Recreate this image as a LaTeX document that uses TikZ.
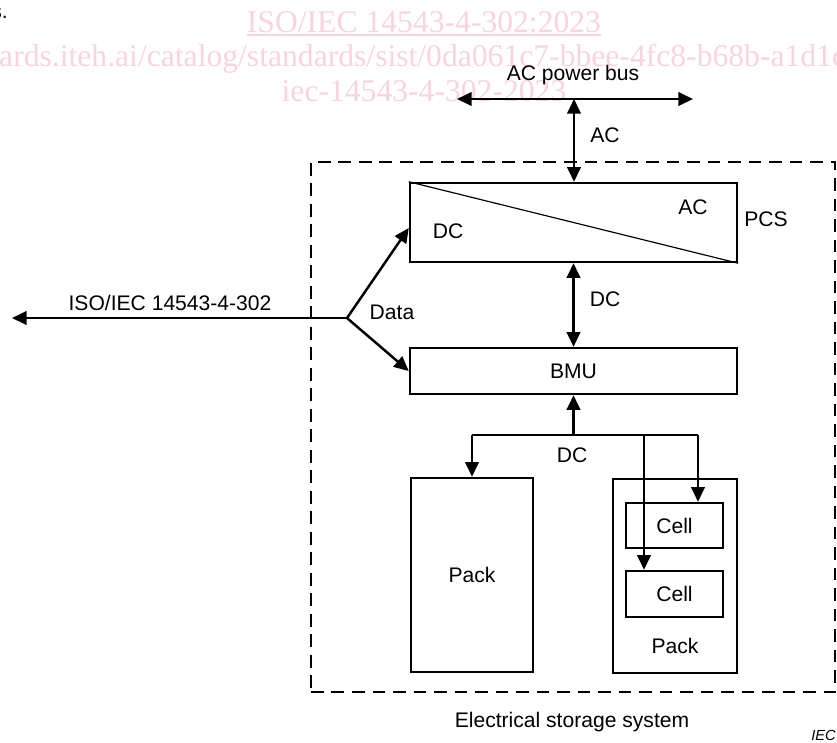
\documentclass[tikz,border=0pt]{standalone}
\usepackage{fontspec}
\setmainfont{Liberation Sans}
\newfontfamily\wmfont{Liberation Serif}
\usetikzlibrary{arrows.meta}
\definecolor{wmpink}{RGB}{249,212,222}
\newcommand{\diagfont}{\fontsize{18}{21}\selectfont}

\begin{document}
\begin{tikzpicture}[x=0.03cm,y=-0.03cm,
        box/.style={draw, line width=2.1pt, inner sep=0pt, font=\diagfont},
        arr/.style={line width=2.1pt, -{Triangle[length=12.5pt,width=11.5pt]}},
        darr/.style={line width=2.1pt, {Triangle[length=12.5pt,width=11.5pt]}-{Triangle[length=12.5pt,width=11.5pt]}},
        lbl/.style={font=\diagfont, inner sep=0pt},
        wm/.style={font=\wmfont\fontsize{27}{30}\selectfont, text=wmpink, inner sep=0pt}]
     \useasboundingbox (0,0) rectangle (837,742);
     \clip (0,0) rectangle (837,742);

     % watermark
            \node[wm, anchor=base] (wmtitle) at (424,32) {ISO/IEC 14543-4-302:2023};
            \draw[wmpink, line width=1.2pt] ([yshift=-0.09cm]wmtitle.base west) -- ([yshift=-0.09cm]wmtitle.base east);
            \node[wm, anchor=base west] (wmurl) at (-1,66) {ards.iteh.ai/catalog/standards/sist/0da061c7-bbee-4fc8-b68b-a1d1c};
            \node[wm, anchor=base] (wmiec) at (424,101) {iec-14543-4-302-2023};

            \node[lbl, anchor=base east] (cut) at (8,18) {s.};

     % system boundary
            \node[draw, line width=2.1pt, dash pattern=on 11pt off 6.5pt, minimum width=15.72cm, minimum height=15.9cm] (ess) at (573,427) {};
            \node[lbl] (esslbl) at (572,722) {Electrical storage system};

            \node[box, minimum width=9.81cm, minimum height=2.37cm] (pcs) at (573.5,222.5) {};
            \draw[line width=1pt] (pcs.north west) -- (pcs.south east);
            \node[lbl] (pcsac) at (693,207) {AC};
            \node[lbl] (pcsdc) at (448,231) {DC};
            \node[lbl] (pcslbl) at (766,219) {PCS};

            \node[box, minimum width=9.81cm, minimum height=1.38cm] (bmu) at (573.5,371) {BMU};

            \node[box, minimum width=3.66cm, minimum height=5.82cm] (pack1) at (472,575) {Pack};
            \node[box, minimum width=3.72cm, minimum height=5.82cm] (pack2) at (675,576) {};
            \node[lbl] (pack2lbl) at (675,646) {Pack};
            \node[box, minimum width=2.91cm, minimum height=1.35cm] (cell1) at (674.5,525.5) {Cell};
            \node[box, minimum width=2.91cm, minimum height=1.38cm] (cell2) at (674.5,594) {Cell};

     % AC side
            \coordinate (busL) at (457,99);
            \coordinate (busR) at (693,99);
            \coordinate (busM) at (574,99);
            \draw[darr] (busL) -- (busR);
            \node[lbl] (acbus) at (573,75) {AC power bus};
            \draw[darr] (busM) -- (busM |- pcs.north);
            \node[lbl] (aclbl) at (605,135) {AC};

            \draw[darr] (pcs.south) -- (bmu.north);
            \node[lbl] (dclbl) at (605,299) {DC};

     % DC bus to the packs
            \coordinate (dcbus) at (573.5,435);
            \coordinate (dcL) at (472,435);
            \coordinate (dcM) at (644,435);
            \coordinate (dcR) at (698,435);
            \draw[arr] (dcbus) -- (bmu.south);
            \draw[line width=2.1pt] (dcL) -- (dcR);
            \draw[arr] (dcL) -- (pack1.north);
            \draw[arr] (dcM) -- (dcM |- cell2.north);
            \draw[arr] (dcR) -- (dcR |- cell1.north);
            \node[lbl] (dcbuslbl) at (572,455) {DC};

     % data link
            \coordinate (data) at (347,318);
            \coordinate (iso) at (12,318);
            \draw[arr] (data) -- (iso);
            \draw[arr] (data) -- ([yshift=-0.165cm]pcs.west);
            \draw[arr] (data) -- (bmu.west);
            \node[lbl] (isolbl) at (170,303) {ISO/IEC 14543-4-302};
            \node[lbl] (datalbl) at (392,312) {Data};

            \node[font=\itshape\fontsize{12.5}{14}\selectfont, anchor=east, inner sep=0pt] (ieclbl) at (836,735) {IEC};
     \end{tikzpicture}
\end{document}
